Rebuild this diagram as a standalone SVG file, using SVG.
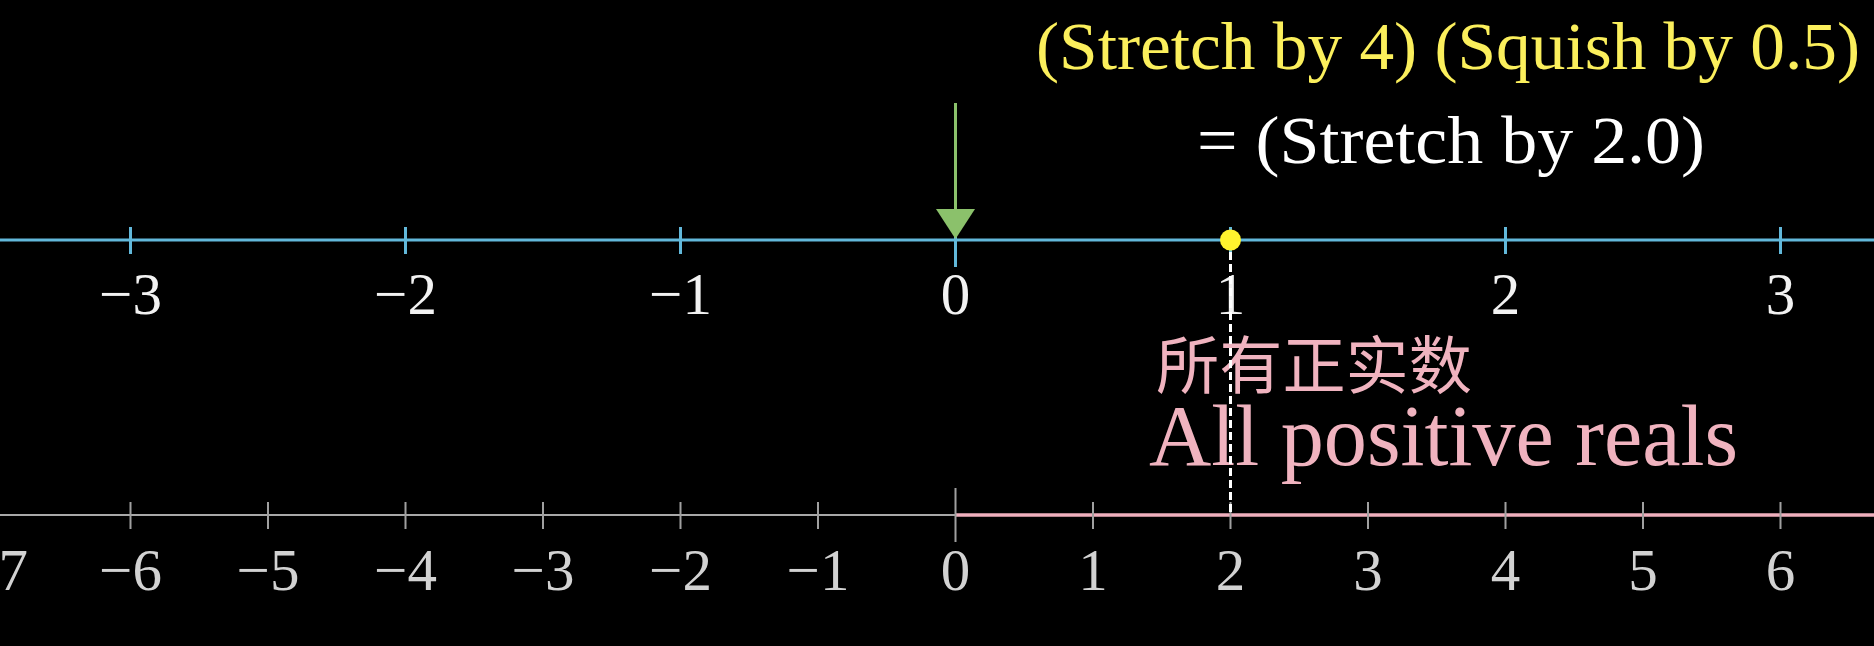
<svg xmlns="http://www.w3.org/2000/svg" width="1874" height="646" viewBox="0 0 1874 646">
<defs>
<style>
.bg{fill:#000}
.axisTop{stroke:#62B8DA;stroke-width:3.2;fill:none}
.tickTop{stroke:#62B8DA;stroke-width:3;fill:none}
.axisBot{stroke:#A8A8A8;stroke-width:2;fill:none}
.tickBot{stroke:#A0A0A0;stroke-width:2;fill:none}
.pinkSeg{stroke:#EFAFBD;stroke-width:3.5;fill:none}
.lblTop{font-family:"Liberation Serif","DejaVu Serif",serif;font-size:59px;fill:#F2F2F2;text-anchor:middle}
.lblBot{font-family:"Liberation Serif","DejaVu Serif",serif;font-size:59px;fill:#D2D2D2;text-anchor:middle}
.eq{font-family:"Liberation Serif","DejaVu Serif",serif;font-size:68px}
.pinkTxt{fill:#F0B3BF}
.dash{stroke:#FFFFFF;stroke-width:3;stroke-dasharray:8 4;fill:none}
.arrow{stroke:#8BC16B;stroke-width:3;fill:none}
</style>
</defs>
<rect class="bg" x="0" y="0" width="1874" height="646"/>

<g id="top-axis">
<line class="axisTop" x1="0" y1="240" x2="1874" y2="240"/>
<line class="tickTop" x1="130.5" y1="227" x2="130.5" y2="254"/>
<line class="tickTop" x1="405.5" y1="227" x2="405.5" y2="254"/>
<line class="tickTop" x1="680.5" y1="227" x2="680.5" y2="254"/>
<line class="tickTop" x1="955.5" y1="213" x2="955.5" y2="267"/>
<line class="tickTop" x1="1230.5" y1="227" x2="1230.5" y2="254"/>
<line class="tickTop" x1="1505.5" y1="227" x2="1505.5" y2="254"/>
<line class="tickTop" x1="1780.5" y1="227" x2="1780.5" y2="254"/>
<text class="lblTop" x="130.5" y="314">−3</text>
<text class="lblTop" x="405.5" y="314">−2</text>
<text class="lblTop" x="680.5" y="314">−1</text>
<text class="lblTop" x="955.5" y="314">0</text>
<text class="lblTop" x="1230.5" y="314">1</text>
<text class="lblTop" x="1505.5" y="314">2</text>
<text class="lblTop" x="1780.5" y="314">3</text>
</g>

<g id="bottom-axis">
<line class="axisBot" x1="0" y1="515" x2="1874" y2="515"/>
<line class="pinkSeg" x1="955.5" y1="515" x2="1874" y2="515"/>
<line class="tickBot" x1="130.5" y1="502" x2="130.5" y2="529"/>
<line class="tickBot" x1="268" y1="502" x2="268" y2="529"/>
<line class="tickBot" x1="405.5" y1="502" x2="405.5" y2="529"/>
<line class="tickBot" x1="543" y1="502" x2="543" y2="529"/>
<line class="tickBot" x1="680.5" y1="502" x2="680.5" y2="529"/>
<line class="tickBot" x1="818" y1="502" x2="818" y2="529"/>
<line class="tickBot" x1="955.5" y1="488" x2="955.5" y2="542"/>
<line class="tickBot" x1="1093" y1="502" x2="1093" y2="529"/>
<line class="tickBot" x1="1230.5" y1="502" x2="1230.5" y2="529"/>
<line class="tickBot" x1="1368" y1="502" x2="1368" y2="529"/>
<line class="tickBot" x1="1505.5" y1="502" x2="1505.5" y2="529"/>
<line class="tickBot" x1="1643" y1="502" x2="1643" y2="529"/>
<line class="tickBot" x1="1780.5" y1="502" x2="1780.5" y2="529"/>
<text class="lblBot" x="28" y="590" style="text-anchor:end">−7</text>
<text class="lblBot" x="130.5" y="590">−6</text>
<text class="lblBot" x="268" y="590">−5</text>
<text class="lblBot" x="405.5" y="590">−4</text>
<text class="lblBot" x="543" y="590">−3</text>
<text class="lblBot" x="680.5" y="590">−2</text>
<text class="lblBot" x="818" y="590">−1</text>
<text class="lblBot" x="955.5" y="590">0</text>
<text class="lblBot" x="1093" y="590">1</text>
<text class="lblBot" x="1230.5" y="590">2</text>
<text class="lblBot" x="1368" y="590">3</text>
<text class="lblBot" x="1505.5" y="590">4</text>
<text class="lblBot" x="1643" y="590">5</text>
<text class="lblBot" x="1780.5" y="590">6</text>
</g>

<g id="equation">
<text class="eq" x="1036" y="69" fill="#FBEF5C" textLength="824" lengthAdjust="spacingAndGlyphs">(Stretch by 4) (Squish by 0.5)</text>
<text class="eq" x="1197" y="163" fill="#FFFFFF" textLength="508" lengthAdjust="spacingAndGlyphs">= (Stretch by 2.0)</text>
</g>

<g id="positive-reals-label">
<text class="pinkTxt" x="1156" y="388" font-family="'Noto Sans CJK SC',sans-serif" font-size="63" textLength="316" lengthAdjust="spacingAndGlyphs">所有正实数</text>
<text class="pinkTxt" x="1149" y="465" font-family="'Liberation Serif','DejaVu Serif',serif" font-size="86" textLength="589" lengthAdjust="spacingAndGlyphs">All positive reals</text>
</g>

<g id="connectors">
<line class="arrow" x1="955.5" y1="103" x2="955.5" y2="212"/>
<polygon points="936,209 975,209 955.5,239" fill="#8BC16B"/>
<line class="dash" x1="1230.5" y1="252" x2="1230.5" y2="515"/>
</g>

<g id="point">
<circle cx="1230.5" cy="240" r="10.5" fill="#FFF22E"/>
</g>
</svg>
